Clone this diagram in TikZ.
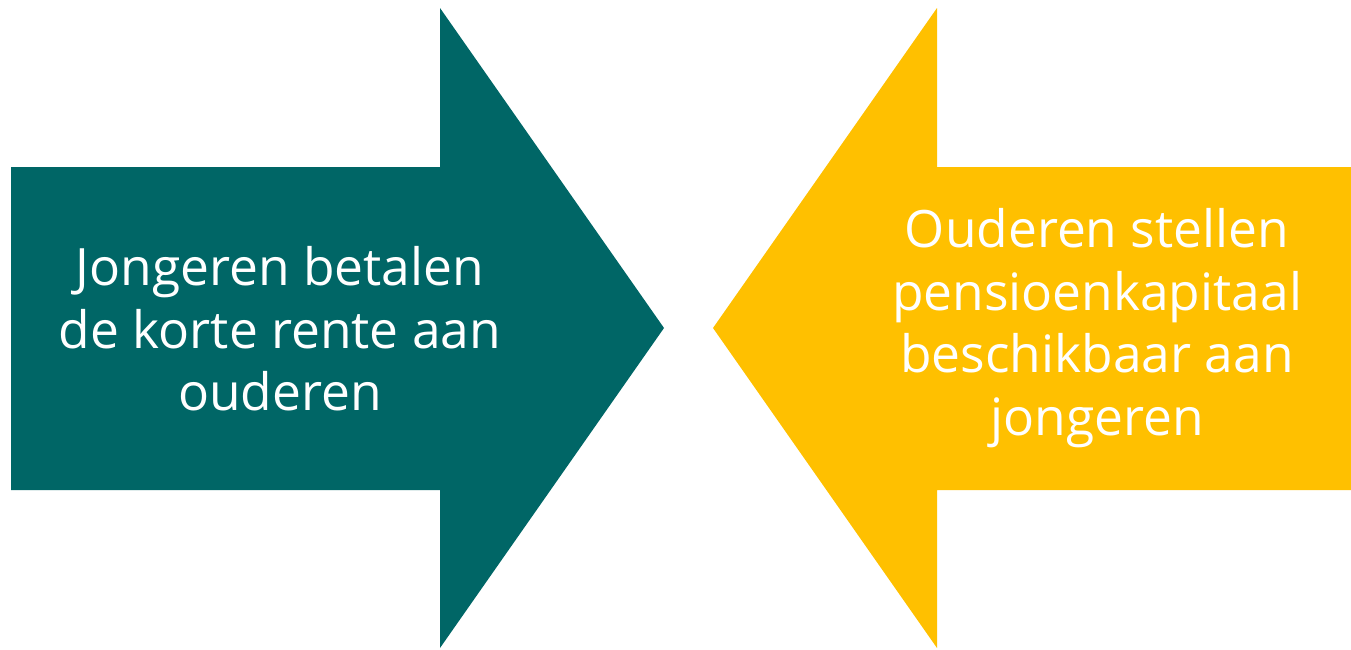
\documentclass[tikz,border=0pt]{standalone}
\usepackage{fontspec}
\setmainfont{Open Sans}
\definecolor{teal}{RGB}{0,102,102}
\definecolor{gold}{RGB}{255,192,0}
\begin{document}
\begin{tikzpicture}[x=1pt,y=-1pt]
\tikzset{arrowtext/.style={text=white, align=center, font=\fontsize{51.5}{62.5}\selectfont}}
\useasboundingbox (0,0) rectangle (1351,649);
\fill[teal] (11,167) -- (440,167) -- (440,8) -- (664,328) -- (440,648) -- (440,490) -- (11,490) -- cycle;
\fill[gold] (1351,167) -- (937,167) -- (937,8) -- (713,328) -- (937,648) -- (937,490) -- (1351,490) -- cycle;
\node[arrowtext] (young) at (280,329) {Jongeren betalen\\de korte rente aan\\ouderen};
\node[arrowtext] (old) at (1097,328) {Ouderen stellen\\pensioenkapitaal\\beschikbaar aan\\jongeren};
\end{tikzpicture}
\end{document}
